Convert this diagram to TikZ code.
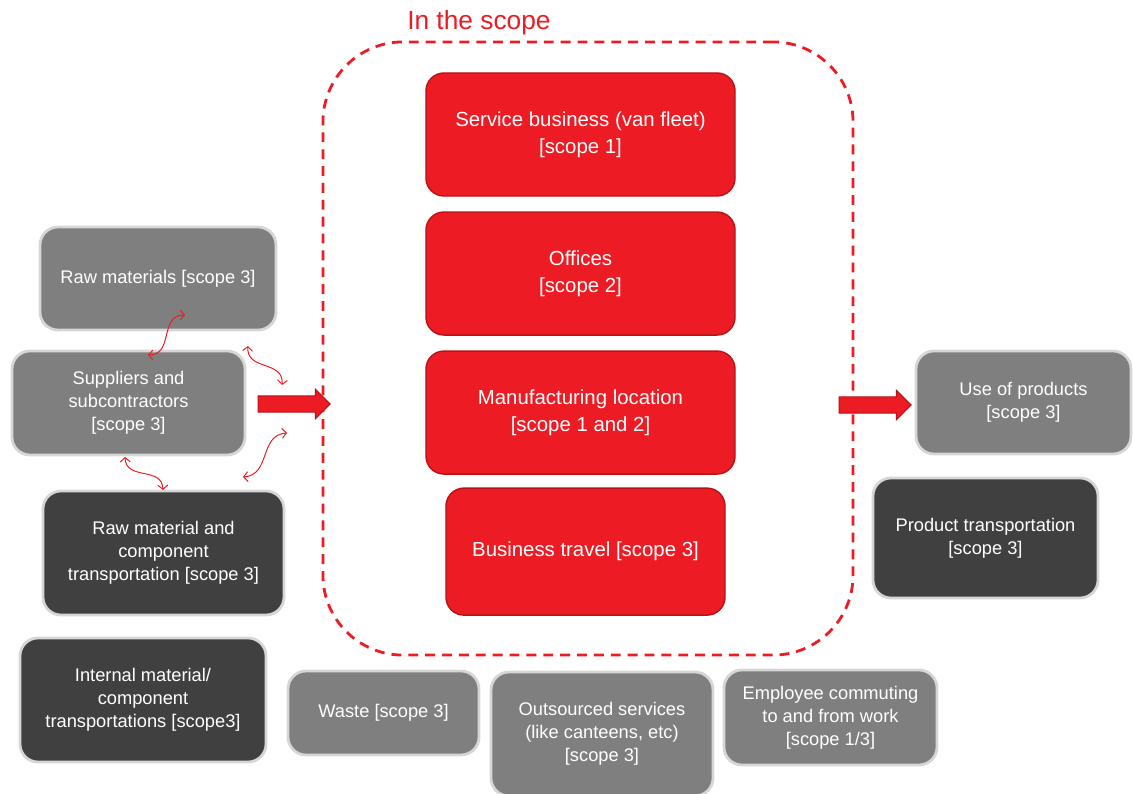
\documentclass[tikz,border=0pt]{standalone}
\usepackage{fontspec}
\setmainfont{Liberation Sans}
\usetikzlibrary{shapes.arrows,arrows.meta,positioning}

\definecolor{scopered}{RGB}{237,28,36}
\definecolor{edgered}{RGB}{185,18,22}
\definecolor{midgray}{RGB}{127,127,127}
\definecolor{boxdark}{RGB}{64,64,64}
\definecolor{rimgray}{RGB}{214,214,214}

\begin{document}
\begin{tikzpicture}[x=0.025cm, y=-0.025cm, >={Straight Barb[length=3pt,width=7pt]}, node distance=3.475cm]
    \tikzstyle{box} = [rounded corners=0.45cm, align=center, text=white,
	font=\fontsize{13}{16.5}\selectfont, inner sep=2pt]
    \tikzstyle{redbox} = [box, fill=scopered, draw=edgered, line width=1pt,
	font=\fontsize{14.5}{19}\selectfont, minimum width=7.725cm, minimum height=3.075cm]
    \tikzstyle{graybox} = [box, fill=midgray, draw=rimgray, line width=2pt]
    \tikzstyle{darkbox} = [box, fill=boxdark, draw=rimgray, line width=2pt]
    \tikzstyle{blockarrow} = [single arrow, fill=scopered, draw=edgered, line width=0.8pt,
	minimum height=1.8cm, inner xsep=0pt, inner ysep=0.19cm, single arrow head extend=0.16cm]
    \tikzstyle{wavy} = [<->, scopered, line width=0.7pt]

	\useasboundingbox (0,0) rectangle (1133,794);

	% the scope frame
	\node[draw=scopered, dash pattern=on 7pt off 5pt, line width=2pt, rounded corners=2cm,
		minimum width=13.25cm, minimum height=15.325cm] (scope) at (588,348.5) {};
	\node[text=scopered, font=\fontsize{18.7}{21}\selectfont, anchor=base west, inner sep=0pt]
		(title) at (407,30) {In the scope};

	\path
		node[redbox] (svc) at (580.5,134.5) {Service business (van fleet)\\ {[scope 1]}}
		node[redbox, below of=svc] (off) {Offices\\ {[scope 2]}}
		node[redbox, below of=off] (man) {Manufacturing location\\ {[scope 1 and 2]}}
		node[redbox, below of=man, xshift=0.125cm, minimum width=6.975cm, minimum height=3.175cm]
			(bt) {Business travel [scope 3]}
		;

	% upstream
	\path
		node[graybox, minimum width=5.9cm, minimum height=2.575cm] (raw) at (158,278.5)
			{Raw materials [scope 3]}
		node[graybox, minimum width=5.825cm, minimum height=2.6cm] (sup) at (128.5,403)
			{Suppliers and\\ subcontractors\\ {[scope 3]}}
		node[darkbox, minimum width=6.025cm, minimum height=3.1cm] (rmt) at (163.5,553)
			{Raw material and\\ component\\ transportation [scope 3]}
		node[darkbox, minimum width=6.15cm, minimum height=3.1cm] (imt) at (143,700)
			{Internal material/\\ component\\ transportations [scope3]}
		;

	% around the site
	\path
		node[graybox, minimum width=4.775cm, minimum height=2.1cm] (waste) at (383.5,713)
			{Waste [scope 3]}
		node[graybox, minimum width=5.55cm, minimum height=3.1cm] (outs) at (602,734)
			{Outsourced services\\ (like canteens, etc)\\ {[scope 3]}}
		node[graybox, minimum width=5.325cm, minimum height=2.375cm] (emp) at (830.5,717.5)
			{Employee commuting\\ to and from work\\ {[scope 1/3]}}
		;

	% downstream
	\path
		node[graybox, minimum width=5.375cm, minimum height=2.575cm] (use) at (1023.5,402.5)
			{Use of products\\ {[scope 3]}}
		node[darkbox, minimum width=5.625cm, minimum height=3.0cm] (prodt) at (985.5,538)
			{Product transportation\\ {[scope 3]}}
		;

	\node[blockarrow] (arrin) at (290,404) {};
	\node[blockarrow] (arrout) at (871,405) {};

	% exchanges between suppliers
	\coordinate (wa1) at (148,355);
	\coordinate (wa2) at (185,315);
	\coordinate (wb1) at (248,346);
	\coordinate (wb2) at (282,385);
	\coordinate (wc1) at (243,477);
	\coordinate (wc2) at (287,433);
	\coordinate (wd1) at (125,457);
	\coordinate (wd2) at (163,490);
	\draw[wavy] (wa1) .. controls (174,355) and (159,315) .. (wa2);
	\draw[wavy] (wb1) .. controls (246,371) and (284,360) .. (wb2);
	\draw[wavy] (wc1) .. controls (271,475) and (259,435) .. (wc2);
	\draw[wavy] (wd1) .. controls (126,481) and (162,466) .. (wd2);

\end{tikzpicture}
\end{document}
